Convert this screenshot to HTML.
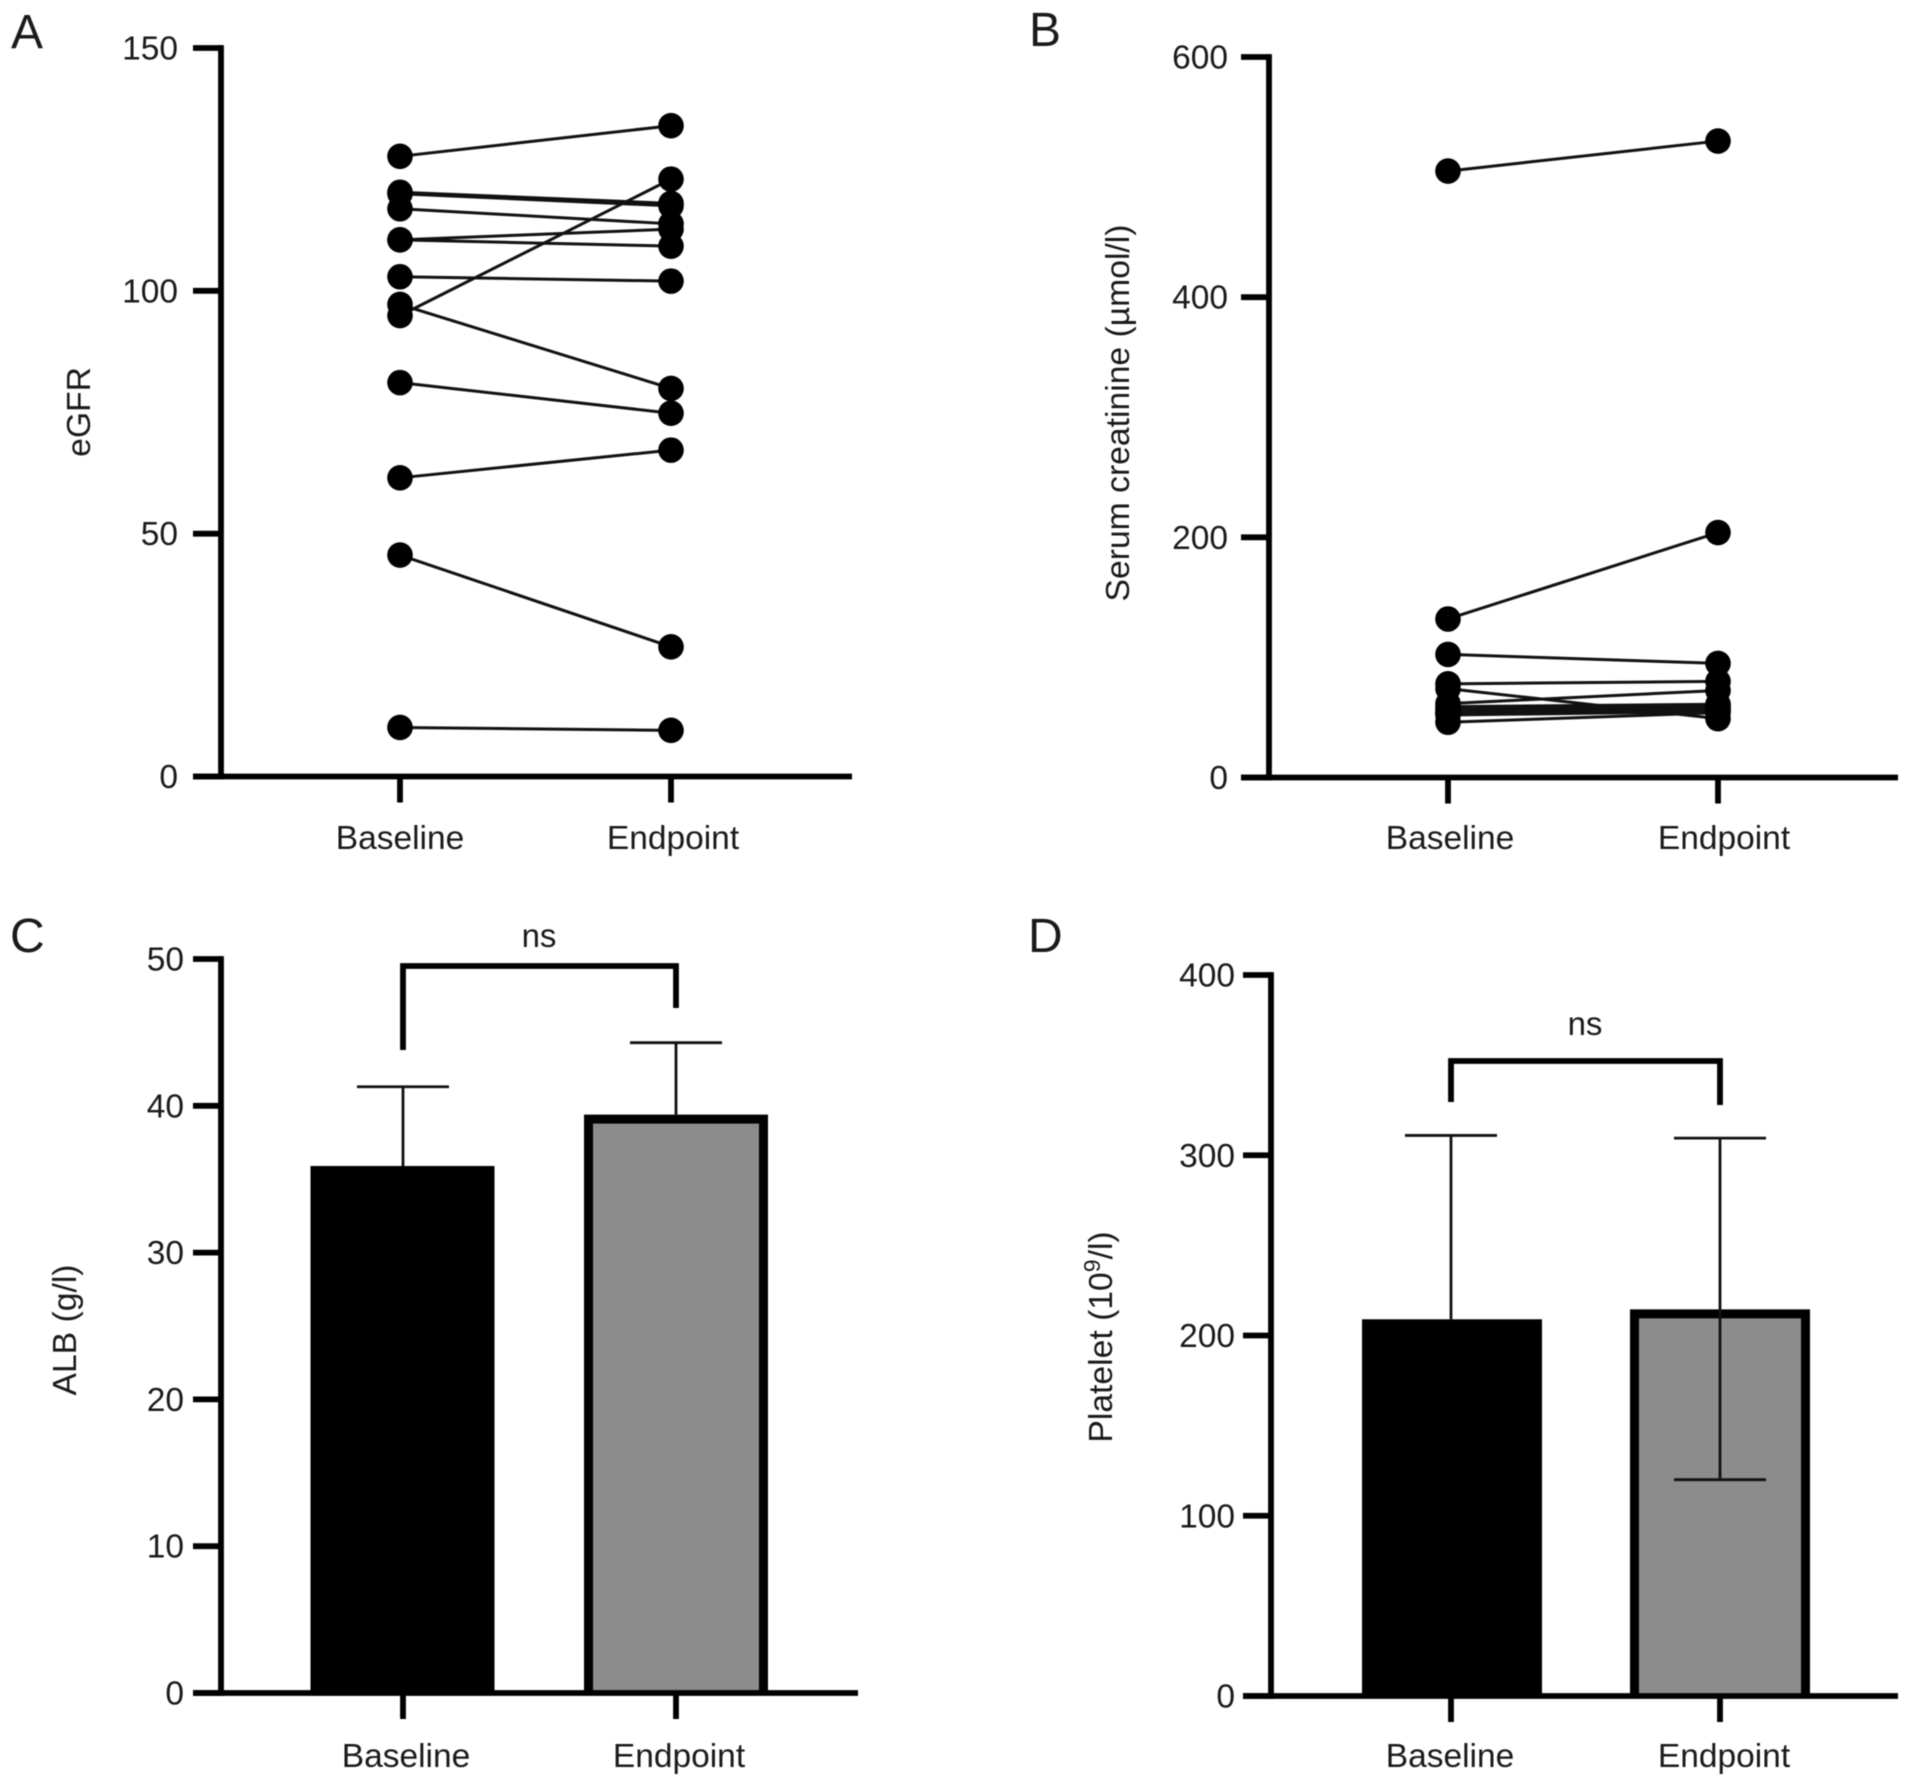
<!DOCTYPE html>
<html lang="en">
<head>
<meta charset="utf-8">
<title>Baseline and endpoint charts</title>
<style>
html,body{margin:0;padding:0;background:#fff;}
svg{display:block;filter:blur(0.5px);}
text{font-family:"Liberation Sans",Arial,sans-serif;fill:#1a1a1a;}
</style>
</head>
<body>
<svg id="figure" xmlns="http://www.w3.org/2000/svg" width="1913" height="1787" viewBox="0 0 1913 1787"></svg>
<script>
const categories = ['Baseline', 'Endpoint'];

const egfrTicks = [0, 50, 100, 150];
const egfrBaseline = [127.7, 120.3, 120, 116.9, 110.5, 110.5, 102.9, 94.9, 97.2, 81.1, 61.5, 45.6, 10.1];
const egfrEndpoint = [134, 118, 117.5, 113.8, 112.7, 109.2, 102, 123, 79.9, 74.8, 67.2, 26.7, 9.5];

const creatinineTicks = [0, 200, 400, 600];
const creatinineBaseline = [505, 132, 102.5, 78, 74, 61.5, 59, 57, 55, 54, 53, 52, 46];
const creatinineEndpoint = [530, 204, 95, 80, 49, 72.5, 61, 60, 58, 57, 56, 55, 54];

const albTicks = [0, 10, 20, 30, 40, 50];
const albMeans = [35.9, 39.4];
const albUpper = [41.3, 44.3];

const plateletTicks = [0, 100, 200, 300, 400];
const plateletMeans = [209, 214.5];
const plateletUpper = [311, 309.5];
const plateletLower = [null, 120];

const svg = document.getElementById('figure');
const NS = 'http://www.w3.org/2000/svg';
const AXIS_W = 5.8;
const INK = '#000';

function make(parent, tag, attrs, content) {
  const el = document.createElementNS(NS, tag);
  for (const k in attrs) el.setAttribute(k, attrs[k]);
  if (content !== undefined) el.textContent = content;
  parent.appendChild(el);
  return el;
}

function linearAxis(d0, d1, r0, r1) {
  return function (v) { return r0 + (v - d0) * (r1 - r0) / (d1 - d0); };
}

function drawLetter(letter, x, y) {
  const t = make(svg, 'text', { x: x, y: y, 'font-size': 48, fill: '#111' }, letter);
  
  
}

function drawAxes(g, o) {
  const yAxis = make(g, 'line', { x1: o.axisX, x2: o.axisX, y1: o.y(o.ticks[o.ticks.length - 1]) - AXIS_W / 2, y2: o.y(0) + AXIS_W / 2, stroke: INK, 'stroke-width': AXIS_W });
  
  
  const xAxis = make(g, 'line', { x1: o.axisLeft, x2: o.axisRight, y1: o.y(0), y2: o.y(0), stroke: INK, 'stroke-width': AXIS_W });
  
  
  o.ticks.forEach(function (v) {
    const tick = make(g, 'line', { x1: o.axisLeft, x2: o.axisX, y1: o.y(v), y2: o.y(v), stroke: INK, 'stroke-width': AXIS_W });
    
    
    const label = make(g, 'text', { x: o.tickLabelX, y: o.y(v) + 11.5, 'font-size': 33.5, 'text-anchor': 'end' }, String(v));
    
    
  });
  categories.forEach(function (c, i) {
    const tick = make(g, 'line', { x1: o.x[i], x2: o.x[i], y1: o.y(0), y2: o.y(0) + 26, stroke: INK, 'stroke-width': AXIS_W });
    
    
    const label = make(g, 'text', { x: o.labelX[i], y: o.y(0) + o.labelDy, 'font-size': 33.5, 'text-anchor': 'middle' }, c);
    
    
  });
}

function drawYTitle(g, text, x, y, sup, rest) {
  const t = make(g, 'text', { x: 0, y: 0, 'font-size': 33.7, 'text-anchor': 'middle', transform: 'translate(' + x + ',' + y + ') rotate(-90)' });
  
  
  t.appendChild(document.createTextNode(text));
  if (sup) {
    const s = make(t, 'tspan', { dy: -12, 'font-size': 23 }, sup);
    
    
    const r = make(t, 'tspan', { dy: 12 }, rest);
    
    
  }
}

function drawPaired(g, o, before, after) {
  const lines = make(g, 'g', {});
  
  
  const dots = make(g, 'g', {});
  
  
  before.forEach(function (v, i) {
    const l = make(lines, 'line', { x1: o.x[0], x2: o.x[1], y1: o.y(v), y2: o.y(after[i]), stroke: '#111', 'stroke-width': 3 });
    
    
    const a = make(dots, 'circle', { cx: o.x[0], cy: o.y(v), r: 12.8, fill: '#000' });
    
    
    const b = make(dots, 'circle', { cx: o.x[1], cy: o.y(after[i]), r: 12.8, fill: '#000' });
    
    
  });
}

function drawBars(g, o, means, upper, lower) {
  means.forEach(function (m, i) {
    const cx = o.barX[i];
    const left = cx - o.barHalf;
    const w = o.barHalf * 2;
    const top = o.y(m);
    const h = o.y(0) - top;
    const bar = make(g, 'rect', { x: left, y: top, width: w, height: h, fill: '#000' });
    
    
    if (i === 1) {
      const inner = make(g, 'rect', { x: left + 9, y: top + 9, width: w - 18, height: h - 9, fill: '#8c8c8c' });
      
      
    }
    const lowV = lower && lower[i] !== null ? lower[i] : m;
    const stem = make(g, 'line', { x1: o.x[i], x2: o.x[i], y1: o.y(upper[i]), y2: o.y(lowV), stroke: '#111', 'stroke-width': 2.8 });
    
    
    const cap = make(g, 'line', { x1: o.x[i] - 46, x2: o.x[i] + 46, y1: o.y(upper[i]), y2: o.y(upper[i]), stroke: '#111', 'stroke-width': 2.8 });
    
    
    if (lowV !== m) {
      const capLow = make(g, 'line', { x1: o.x[i] - 46, x2: o.x[i] + 46, y1: o.y(lowV), y2: o.y(lowV), stroke: '#111', 'stroke-width': 2.8 });
      
      
    }
  });
}

function drawBracket(g, o) {
  const path = make(g, 'polyline', {
    points: o.x[0] + ',' + o.bracketLeftEnd + ' ' + o.x[0] + ',' + o.bracketY + ' ' + o.x[1] + ',' + o.bracketY + ' ' + o.x[1] + ',' + o.bracketRightEnd,
    fill: 'none', stroke: INK, 'stroke-width': AXIS_W
  });
  
  
  const t = make(g, 'text', { x: o.nsX, y: o.nsY, 'font-size': 33, 'text-anchor': 'middle' }, 'ns');
  
  
}

function panel(name) {
  const g = make(svg, 'g', {});
  
  
  return g;
}

/* Panel A */
const gA = panel('egfr-panel');
const optA = { y: linearAxis(0, 150, 776.5, 48), ticks: egfrTicks, axisX: 221, axisLeft: 193, axisRight: 852, tickLabelX: 178, x: [400, 671], labelX: [400, 673], labelDy: 72.5 };
drawLetter('A', 11, 48);
drawAxes(gA, optA);
drawYTitle(gA, 'eGFR', 90, 412);
drawPaired(gA, optA, egfrBaseline, egfrEndpoint);

/* Panel B */
const gB = panel('serum-creatinine-panel');
const optB = { y: linearAxis(0, 600, 777.5, 57), ticks: creatinineTicks, axisX: 1269, axisLeft: 1241, axisRight: 1898, tickLabelX: 1228, x: [1448, 1718], labelX: [1450, 1724], labelDy: 71.5 };
drawLetter('B', 1029, 46);
drawAxes(gB, optB);
drawYTitle(gB, 'Serum creatinine (\u00b5mol/l)', 1129, 413);
drawPaired(gB, optB, creatinineBaseline, creatinineEndpoint);

/* Panel C */
const gC = panel('alb-panel');
const optC = { y: linearAxis(0, 50, 1693, 959), ticks: albTicks, axisX: 221, axisLeft: 193, axisRight: 858, tickLabelX: 184, x: [403, 676], labelX: [406, 679], labelDy: 74, barX: [402.5, 676], barHalf: 92, bracketY: 966, bracketLeftEnd: 1050, bracketRightEnd: 1008, nsX: 539, nsY: 947 };
drawLetter('C', 10, 952);
drawBars(gC, optC, albMeans, albUpper, null);
drawAxes(gC, optC);
drawBracket(gC, optC);
drawYTitle(gC, 'ALB (g/l)', 76, 1330);

/* Panel D */
const gD = panel('platelet-panel');
const optD = { y: linearAxis(0, 400, 1696, 975), ticks: plateletTicks, axisX: 1271, axisLeft: 1243, axisRight: 1898, tickLabelX: 1235, x: [1451, 1720], labelX: [1450, 1724], labelDy: 71, barX: [1452, 1720], barHalf: 90, bracketY: 1061, bracketLeftEnd: 1102, bracketRightEnd: 1105, nsX: 1585, nsY: 1035 };
drawLetter('D', 1028, 952);
drawBars(gD, optD, plateletMeans, plateletUpper, plateletLower);
drawAxes(gD, optD);
drawBracket(gD, optD);
drawYTitle(gD, 'Platelet (10', 1112, 1337, '9', '/l)');
</script>
</body>
</html>
